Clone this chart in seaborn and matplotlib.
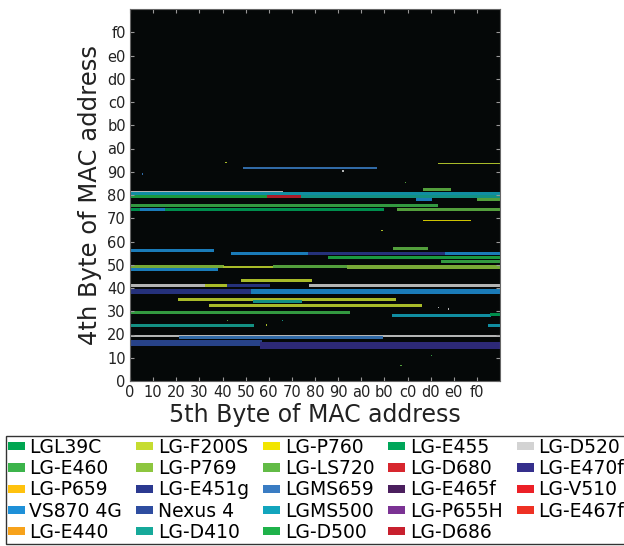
import numpy as np
import pandas as pd
import seaborn as sns
from matplotlib import pyplot as plt
from matplotlib.colors import ListedColormap
from matplotlib.patches import Patch

# device models and their legend colours
devices = ["LGL39C", "LG-E460", "LG-P659", "VS870 4G", "LG-E440",
           "LG-F200S", "LG-P769", "LG-E451g", "Nexus 4", "LG-D410",
           "LG-P760", "LG-LS720", "LGMS659", "LGMS500", "LG-D500",
           "LG-E455", "LG-D680", "LG-E465f", "LG-P655H", "LG-D686",
           "LG-D520", "LG-E470f", "LG-V510", "LG-E467f"]
colors = ["#00a651", "#3cb44b", "#ffc20e", "#1e90d8", "#f7a21b",
          "#c6dc30", "#8dc63f", "#2b3990", "#2e4da0", "#16a99a",
          "#f2e500", "#62bb46", "#3a7cc3", "#12a5bd", "#1fb24a",
          "#00a65a", "#d7262e", "#4b1f5e", "#7b3294", "#c8202e",
          "#d3d3d3", "#352f8c", "#ec2027", "#ee3124"]

# observed address ranges: 4th byte (y0..y1) x 5th byte (x0..x1)
seg_device = ["LGMS659", "LG-F200S", "LG-LS720", "LGMS500", "LGMS500", "LG-D520",
              "LG-D500", "LG-D686", "LG-D410", "LG-LS720", "VS870 4G",
              "LG-E460", "LG-E455", "LG-LS720", "VS870 4G", "LG-P760",
              "VS870 4G", "VS870 4G", "LG-E451g", "VS870 4G", "LG-LS720",
              "LG-D500", "LG-E460", "VS870 4G", "LG-P769", "LG-F200S", "LG-LS720", "LG-P769",
              "LG-F200S", "LG-D520", "LG-F200S", "LG-E451g", "LG-D520",
              "LG-E451g", "VS870 4G", "LG-F200S", "LG-D410", "LG-F200S",
              "LG-E460", "LGMS500", "LG-E455", "LG-D410", "LGMS500",
              "LG-D520", "LGMS659", "Nexus 4", "LG-E470f"]
seg_y0 = [146, 149, 131, 128, 128, 130,
          126, 126, 126, 124, 124,
          120, 117, 117, 117, 110,
          89, 87, 87, 87, 90,
          84, 81, 76, 78, 78, 78, 77,
          68, 65, 65, 65, 65,
          60, 60, 55, 54, 51,
          46, 44, 45, 37, 37,
          30, 29, 24, 22]
seg_y1 = [146, 149, 132, 129, 129, 130,
          127, 127, 127, 125, 125,
          121, 118, 118, 118, 110,
          90, 88, 88, 88, 91,
          85, 82, 77, 79, 78, 79, 79,
          69, 66, 66, 66, 66,
          62, 62, 56, 55, 52,
          47, 45, 46, 38, 38,
          31, 30, 27, 26]
seg_x0 = [78, 213, 203, 0, 106, 0,
          0, 95, 118, 240, 198,
          0, 0, 185, 7, 203,
          0, 70, 123, 218, 182,
          137, 215, 0, 0, 64, 99, 150,
          77, 0, 52, 67, 124,
          0, 84, 33, 85, 55,
          0, 181, 249, 0, 248,
          0, 34, 0, 90]
seg_x1 = [170, 255, 221, 105, 255, 105,
          95, 118, 255, 255, 208,
          212, 175, 255, 23, 235,
          57, 123, 218, 255, 205,
          255, 255, 60, 64, 99, 150, 255,
          125, 52, 67, 96, 255,
          84, 255, 183, 118, 201,
          151, 249, 255, 85, 255,
          255, 174, 90, 255]

# isolated single addresses
dot_device = ["LG-F200S", "LG-D520", "LG-LS720", "LGMS659", "LG-F200S", "LG-LS720",
              "LG-F200S", "LG-D410", "LG-D520", "LG-D520", "LG-LS720", "LG-E460"]
dot_y = [150, 144, 136, 142, 103, 41, 38, 41, 50, 49, 10, 17]
dot_x = [66, 147, 190, 8, 174, 67, 94, 105, 213, 220, 187, 208]

grid = np.full((256, 256), np.nan)
for d, y0, y1, x0, x1 in zip(seg_device, seg_y0, seg_y1, seg_x0, seg_x1):
    grid[y0:y1 + 1, x0:x1 + 1] = devices.index(d)
for d, y, x in zip(dot_device, dot_y, dot_x):
    grid[y, x] = devices.index(d)
df = pd.DataFrame(grid)

fig = plt.figure(figsize=(6.24, 5.46), dpi=100)
ax = fig.add_axes([130 / 624, 1 - 381 / 546, 370 / 624, 372 / 546])
ax.set_facecolor("#050808")
sns.heatmap(df, cmap=ListedColormap(colors), vmin=-0.5, vmax=len(devices) - 0.5,
            cbar=False, ax=ax, xticklabels=False, yticklabels=False,
            rasterized=True, alpha=0.85)
ax.invert_yaxis()
ax.set_xlim(0, 256)
ax.set_ylim(0, 256)

ticks = np.arange(0, 256, 16)
labels = [f"{t:x}" for t in ticks]
ax.set_xticks(ticks)
ax.set_xticklabels(labels, rotation=0)
ax.set_yticks(ticks)
ax.set_yticklabels(labels, rotation=0)
ax.tick_params(direction="in", length=3, color="#999999", top=True, right=True,
               labelsize=10.5, labelcolor="#222222", pad=3)
for sp in ax.spines.values():
    sp.set_visible(True)
    sp.set_color("#666666")
    sp.set_linewidth(0.8)

ax.set_xlabel("5th Byte of MAC address", fontsize=17, color="#222222", labelpad=2)
ax.set_ylabel("4th Byte of MAC address", fontsize=17.5, color="#222222", labelpad=4)

handles = [Patch(facecolor=c, edgecolor="none", label=d) for d, c in zip(devices, colors)]
fig.legend(handles=handles, ncol=5, loc="upper left", bbox_to_anchor=(6 / 624, 1 - 436 / 546),
           fontsize=13.5, frameon=True, fancybox=False, edgecolor="black",
           handlelength=0.9, handleheight=0.3, handletextpad=0.25,
           columnspacing=0.75, labelspacing=0.12, borderpad=0.1, borderaxespad=0)

fig.savefig("out.png", dpi=100)
plt.close(fig)
